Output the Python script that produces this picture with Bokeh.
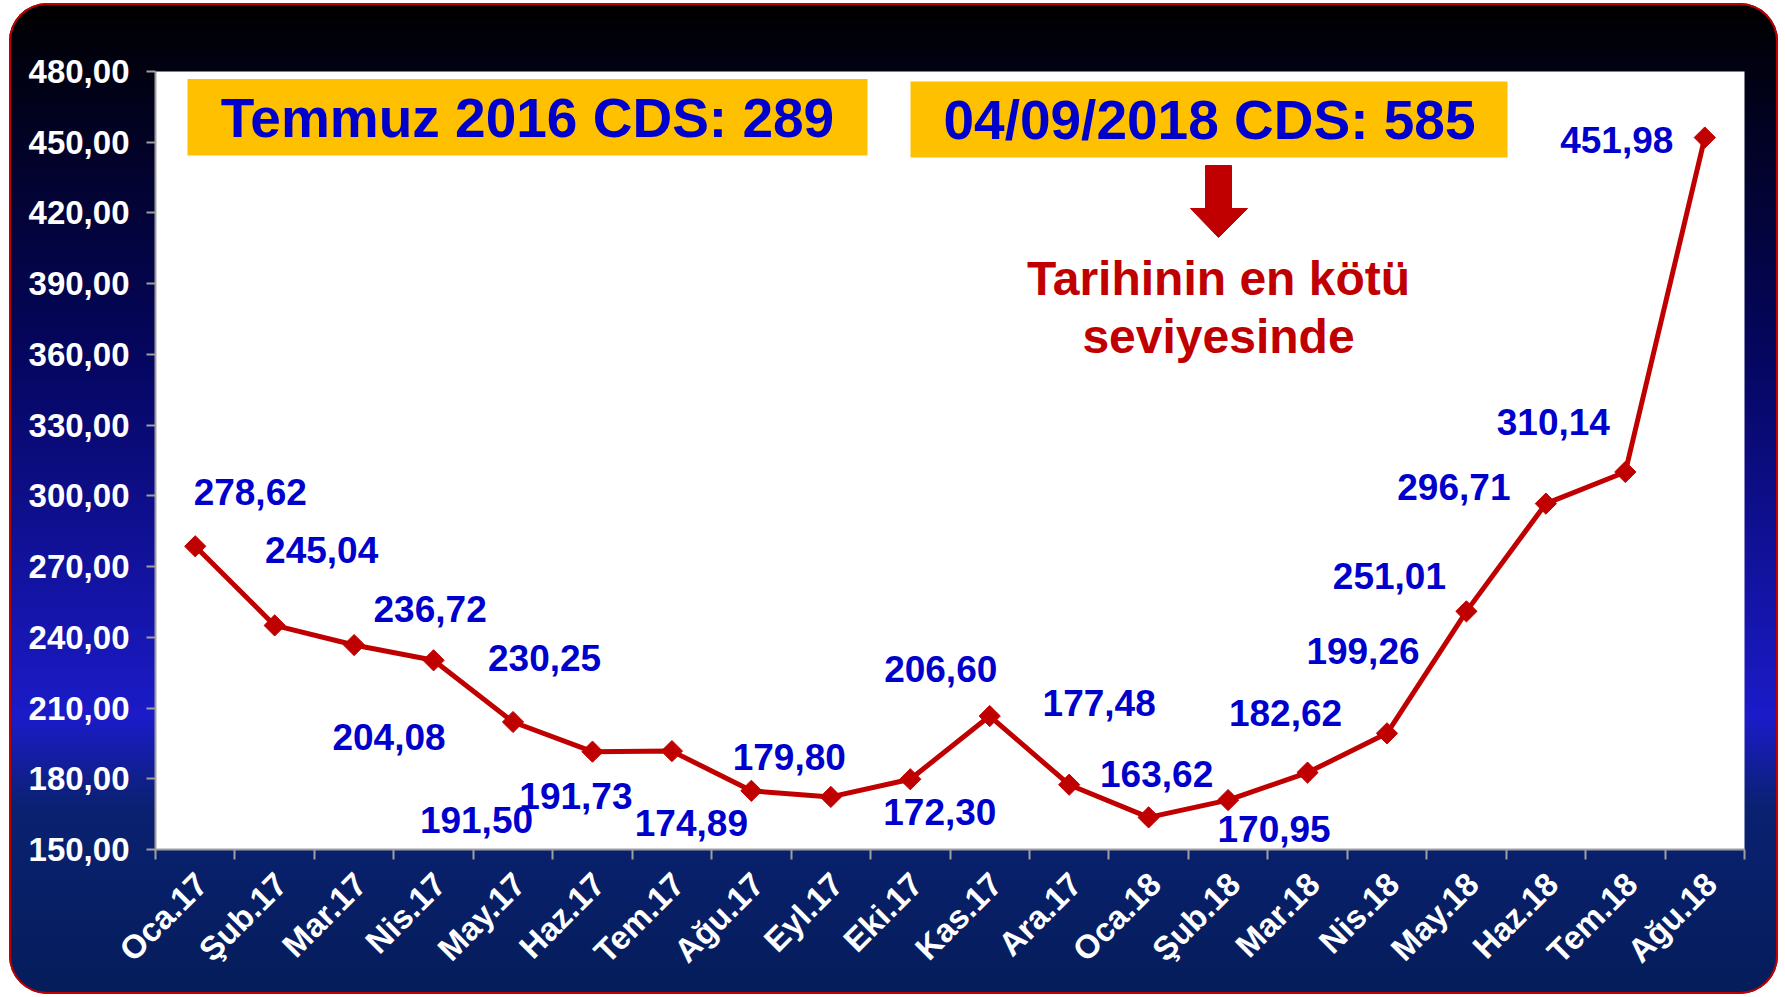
import numpy as np
from bokeh.plotting import figure
from bokeh.models import ColumnDataSource, FixedTicker, CustomJSTickFormatter, Range1d
from bokeh.core.properties import value
from bokeh.embed import file_html
from bokeh.resources import INLINE

# ---------------- data ----------------
months = ["Oca.17", "Şub.17", "Mar.17", "Nis.17", "May.17", "Haz.17", "Tem.17",
          "Ağu.17", "Eyl.17", "Eki.17", "Kas.17", "Ara.17", "Oca.18", "Şub.18",
          "Mar.18", "Nis.18", "May.18", "Haz.18", "Tem.18", "Ağu.18"]
cds = [278.62, 245.04, 236.72, 230.25, 204.08, 191.50, 191.73, 174.89, 172.30,
       179.80, 206.60, 177.48, 163.62, 170.95, 182.62, 199.26, 251.01, 296.71,
       310.14, 451.98]
y_ticks = [150, 180, 210, 240, 270, 300, 330, 360, 390, 420, 450, 480]
box_texts = ["Temmuz 2016 CDS: 289", "04/09/2018 CDS: 585"]
note_lines = ["Tarihinin en kötü", "seviyesinde"]

# label placement offsets (screen px, relative to each point)
label_dx = [55, 47, 76, 111, -124, -116, -96, -60, 109, -121, -49, 30, 8, 46,
            -22, -24, -77, -92, -72, -88]
label_dy = [-54, -75, -36, -2, 15, 68, 45, 32, 15, -22, -47, -82, -43, 29,
            -60, -82, -35, -17, -50, 2]

# ---------------- layout constants (page px) ----------------
OX, OY = 9, 3                      # figure position on the page
W, H = 1769, 991
ML, MR, MT, MB = 146, 34, 68, 145
FX0, FX1 = OX + ML, OX + W - MR
FY0, FY1 = OY + MT, OY + H - MB
N = len(months)
YMIN, YMAX = y_ticks[0], y_ticks[-1]


def dx(px):
    return (px - FX0) / (FX1 - FX0) * N


def dy(py):
    return YMIN + (FY1 - py) / (FY1 - FY0) * (YMAX - YMIN)


FONT = "Liberation Sans"

p = figure(width=W, height=H, output_backend="svg", toolbar_location=None,
           x_range=Range1d(0, N), y_range=Range1d(YMIN, YMAX),
           min_border_left=ML, min_border_right=MR, min_border_top=MT,
           min_border_bottom=MB)
p.margin = (OY, 0, 0, OX)
p.border_fill_color = None
p.background_fill_color = "white"
p.outline_line_color = None
p.xgrid.visible = False
p.ygrid.visible = False
p.styles = {
    "background": "linear-gradient(180deg, #000000 0%, #050660 36%, #1b1bc9 72%, "
                  "#0a2172 81%, #051d5a 100%)",
    "border-radius": "38px",
    "box-shadow": "inset 0 0 0 2px #c00000",
}

# y axis
ya = p.yaxis[0]
ya.ticker = FixedTicker(ticks=y_ticks, minor_ticks=[])
ya.formatter = CustomJSTickFormatter(code="return tick.toFixed(2).replace('.', ',');")
ya.axis_line_color = "#a0a0a0"
ya.axis_line_width = 2
ya.major_tick_line_color = "#a0a0a0"
ya.major_tick_line_width = 2
ya.major_tick_out = 9
ya.major_tick_in = 0
ya.major_label_standoff = 17
ya.major_label_text_font = FONT
ya.major_label_text_font_style = "bold"
ya.major_label_text_font_size = "33px"
ya.major_label_text_color = "white"

# x axis (labels at category centres, tick marks at category boundaries)
centers = [i + 0.5 for i in range(N)]
label_anchor = [c + 0.08 for c in centers]
bounds = list(range(N + 1))
xa = p.xaxis[0]
xa.ticker = FixedTicker(ticks=label_anchor, minor_ticks=bounds)
xa.formatter = CustomJSTickFormatter(args=dict(labels=months),
                                     code="return labels[Math.floor(tick)];")
xa.axis_line_color = "#a0a0a0"
xa.axis_line_width = 2
xa.major_tick_line_color = None
xa.major_tick_out = 0
xa.major_tick_in = 0
xa.minor_tick_line_color = "#a0a0a0"
xa.minor_tick_line_width = 2
xa.minor_tick_out = 10
xa.minor_tick_in = 0
xa.major_label_orientation = np.pi / 4
xa.major_label_standoff = 19
xa.major_label_text_font = FONT
xa.major_label_text_font_style = "bold"
xa.major_label_text_font_size = "33px"
xa.major_label_text_color = "white"

# series
src = ColumnDataSource(dict(
    x=centers, y=cds,
    lab=[f"{v:.2f}".replace(".", ",") for v in cds],
    dxo=label_dx, dyo=label_dy,
))
p.line("x", "y", source=src, line_color="#c00000", line_width=5)
p.scatter("x", "y", source=src, marker="square", angle=np.pi / 4, size=15,
          fill_color="#c00000", line_color="#c00000")
p.text("x", "y", text="lab", source=src, x_offset="dxo", y_offset="dyo",
       text_font=value(FONT), text_font_style="bold", text_font_size="37px",
       text_color="#0000cc", text_align="center", text_baseline="middle")

# yellow boxes
boxes = [(187, 867, 78.5, 155), (910, 1507, 81, 157)]
p.quad(left=[dx(b[0]) for b in boxes], right=[dx(b[1]) for b in boxes],
       top=[dy(b[2]) for b in boxes], bottom=[dy(b[3]) for b in boxes],
       fill_color="#ffc000", line_color=None)
p.text(x=[dx(527), dx(1209)], y=[dy(117), dy(119)], text=box_texts,
       text_font=value(FONT), text_font_style="bold", text_font_size="55px",
       text_color="#0000cc", text_align="center", text_baseline="middle")

# red arrow
ax = [1205, 1231, 1231, 1247, 1218, 1190, 1205]
ay = [165, 165, 208, 208, 237, 208, 208]
p.patch([dx(v) for v in ax], [dy(v) for v in ay], fill_color="#c00000",
        line_color="#c00000")
p.text(x=[dx(1218), dx(1218)], y=[dy(278), dy(336)], text=note_lines,
       text_font=value(FONT), text_font_style="bold", text_font_size="48px",
       text_color="#c00000", text_align="center", text_baseline="middle")

open("out.html", "w").write(file_html(p, INLINE))
